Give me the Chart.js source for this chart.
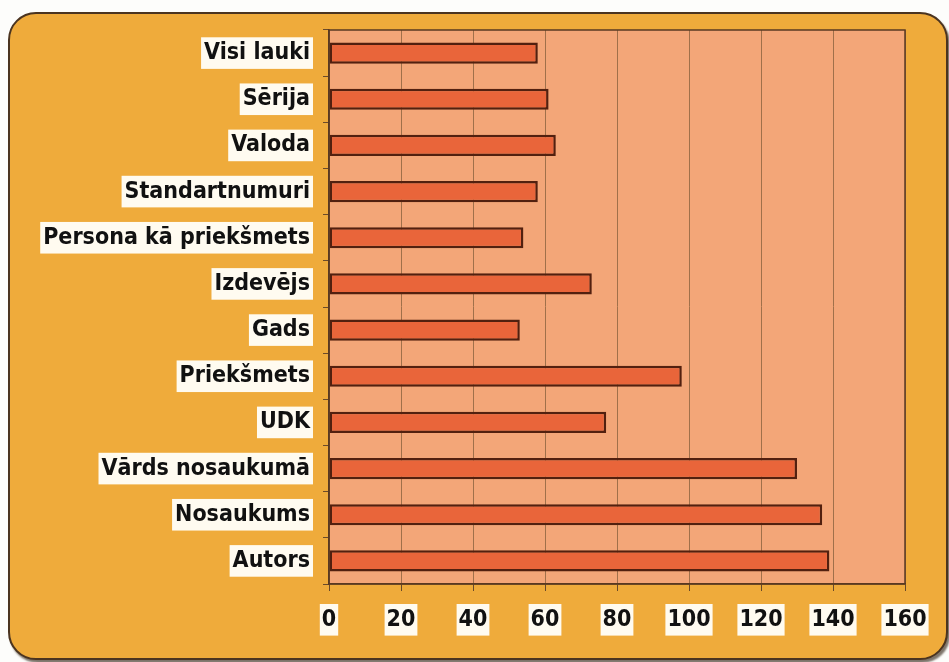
<!DOCTYPE html>
<html>
<head>
    <title>Meklēšanas lauki</title>
    <script src="https://cdn.jsdelivr.net/npm/chart.js"></script>
    <style>
        body {
            margin: 0;
            background-color: #fdfdfb;
            width: 949px;
            height: 662px;
            overflow: hidden;
            position: relative;
        }

        .panel {
            position: absolute;
            left: 8px;
            top: 12px;
            width: 936px;
            height: 644px;
            background-color: #efab3b;
            border: 2px solid #4b3420;
            border-radius: 28px;
            box-shadow: 2px 3px 2px rgba(40, 25, 10, 0.6);
        }

        .chart-box {
            position: absolute;
            left: 0;
            top: 0;
            width: 949px;
            height: 662px;
        }
    </style>
</head>
<body>
    <div class="panel"></div>
    <div class="chart-box">
        <canvas id="fieldsChart" width="949" height="662"></canvas>
    </div>

    <script>
        // Search fields, top to bottom
        var fieldNames = [
            'Visi lauki', 'Sērija', 'Valoda', 'Standartnumuri',
            'Persona kā priekšmets', 'Izdevējs', 'Gads', 'Priekšmets',
            'UDK', 'Vārds nosaukumā', 'Nosaukums', 'Autors'
        ];
        var fieldCounts = [58, 61, 63, 58, 54, 73, 53, 98, 77, 130, 137, 139];
        var axisTicks = [0, 20, 40, 60, 80, 100, 120, 140, 160];

        var labelFont = { family: "'DejaVu Sans Condensed', 'DejaVu Sans', sans-serif", size: 23, weight: 'bold' };

        // Salmon plot area with a dark frame
        var plotFrame = {
            id: 'plotFrame',
            beforeDatasetsDraw: function(chart) {
                var a = chart.chartArea;
                var ctx = chart.ctx;
                ctx.save();
                ctx.globalCompositeOperation = 'destination-over';
                ctx.fillStyle = '#f3a678';
                ctx.fillRect(a.left, a.top, a.right - a.left, a.bottom - a.top);
                ctx.restore();
            },
            afterDatasetsDraw: function(chart) {
                var a = chart.chartArea;
                var ctx = chart.ctx;
                ctx.save();
                ctx.strokeStyle = '#5a3a22';
                ctx.lineWidth = 1.5;
                ctx.strokeRect(a.left, a.top, a.right - a.left, a.bottom - a.top);
                ctx.restore();
            }
        };

        var ctx = document.getElementById('fieldsChart').getContext('2d');
        var fieldsChart = new Chart(ctx, {
            type: 'bar',
            data: {
                labels: fieldNames,
                datasets: [{
                    data: fieldCounts,
                    backgroundColor: '#e9653a',
                    borderColor: '#52200f',
                    borderWidth: 2.5,
                    borderSkipped: false,
                    categoryPercentage: 1,
                    barPercentage: 0.46
                }]
            },
            options: {
                indexAxis: 'y',
                responsive: false,
                animation: false,
                layout: {
                    padding: { top: 30, right: 44, bottom: 0, left: 0 }
                },
                plugins: {
                    legend: { display: false },
                    tooltip: { enabled: false }
                },
                scales: {
                    x: {
                        min: 0,
                        max: 160,
                        afterBuildTicks: function(scale) {
                            scale.ticks = axisTicks.map(function(v) { return { value: v }; });
                        },
                        afterFit: function(scale) {
                            scale.height = 78;
                        },
                        grid: {
                            color: '#a0704a',
                            lineWidth: 1,
                            tickLength: 7,
                            tickColor: '#6a4a2a'
                        },
                        border: { color: '#5a3a22', width: 1.5 },
                        ticks: {
                            color: '#111',
                            font: labelFont,
                            padding: 15,
                            maxRotation: 0,
                            showLabelBackdrop: true,
                            backdropColor: '#fffbf0',
                            backdropPadding: { top: 2, bottom: 2, left: 2, right: 2 }
                        }
                    },
                    y: {
                        afterFit: function(scale) {
                            scale.width = 329;
                        },
                        grid: {
                            drawOnChartArea: false,
                            offset: true,
                            tickLength: 6,
                            tickColor: '#6a4a2a'
                        },
                        border: { color: '#5a3a22', width: 1.5 },
                        ticks: {
                            color: '#111',
                            font: labelFont,
                            padding: 13,
                            showLabelBackdrop: true,
                            backdropColor: '#fffbf0',
                            backdropPadding: { top: 2, bottom: 2, left: 3, right: 3 }
                        }
                    }
                }
            },
            plugins: [plotFrame]
        });
    </script>
</body>
</html>
